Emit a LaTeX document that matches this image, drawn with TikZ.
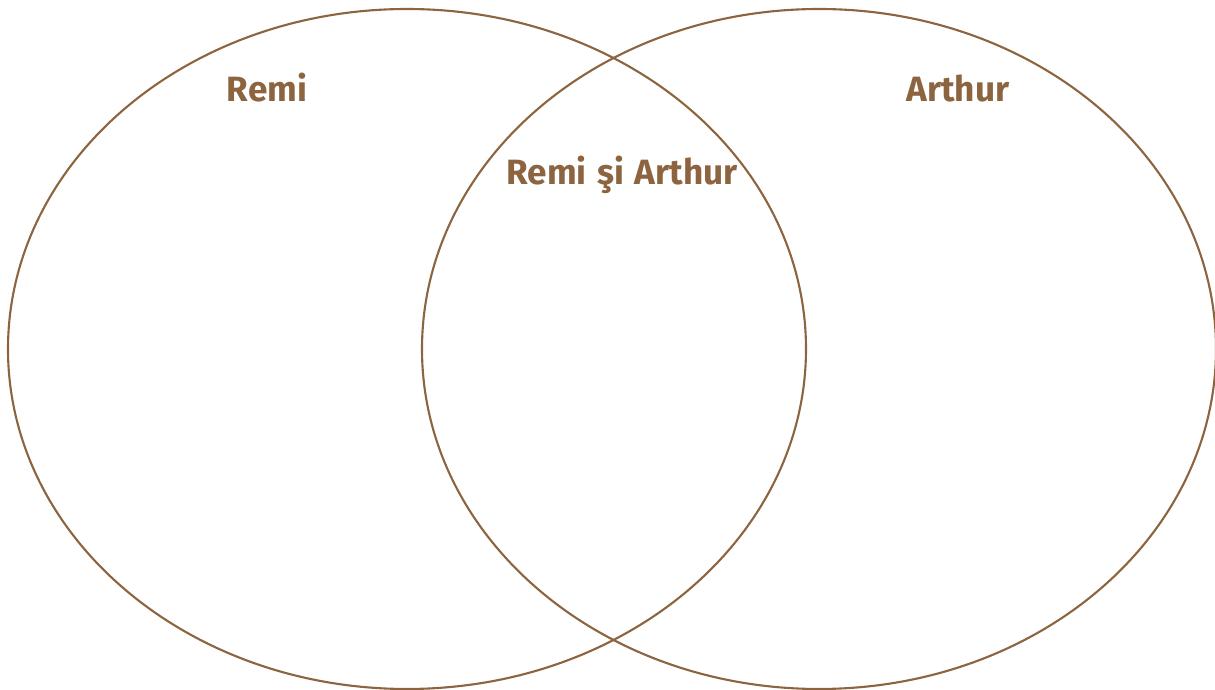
\documentclass[tikz,border=0pt]{standalone}
\usepackage{fontspec}
\setmainfont{Fira Sans}
\usepackage{xcolor}
\usepackage{tikz}
\definecolor{vennbrown}{RGB}{140,100,64}

\begin{document}
\begin{tikzpicture}[x=0.02cm,y=0.02cm,font=\bfseries\fontsize{20}{24}\selectfont,
    setlabel/.style={vennbrown,inner sep=0pt}]
  \useasboundingbox (0,0) rectangle (1215,690);
  \draw[vennbrown,line width=1.2pt] (407,341) ellipse (399 and 340);
  \draw[vennbrown,line width=1.2pt] (819,341) ellipse (397 and 340);
  \node[setlabel] (remi) at (267,602) {Remi};
  \node[setlabel] (arthur) at (958,602) {Arthur};
  \node[setlabel] (both) at (622,515) {Remi\hspace{0.3em}şi\hspace{0.3em}Arthur};
\end{tikzpicture}
\end{document}
